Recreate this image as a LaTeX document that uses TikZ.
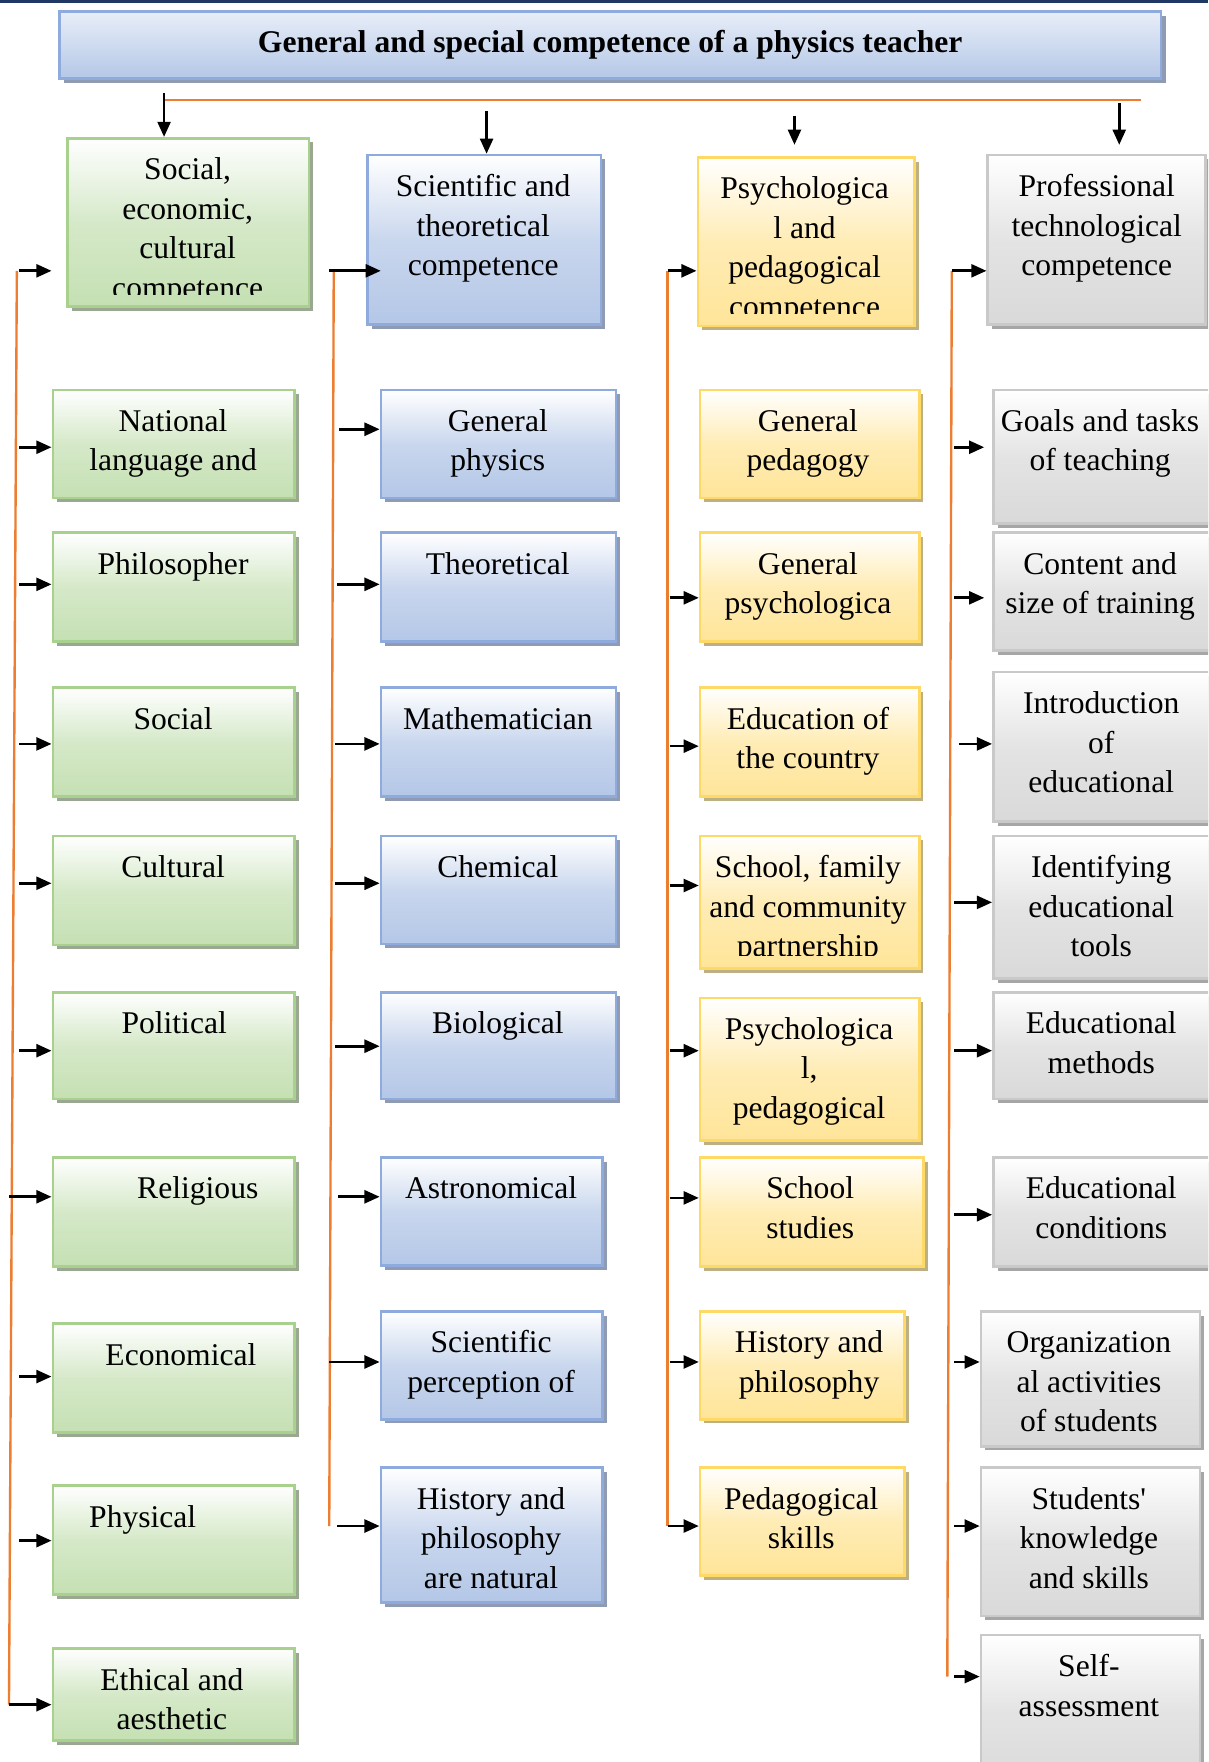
\documentclass[tikz,border=0pt]{standalone}
\usepackage{fontspec}
\setmainfont{Liberation Serif}
\usetikzlibrary{fit,arrows.meta}

\definecolor{navyband}{HTML}{203864}
\definecolor{spinecol}{HTML}{ED7D31}
\definecolor{grnfill}{HTML}{C5E0B3}
\definecolor{grnline}{HTML}{A9D18E}
\definecolor{grnshade}{HTML}{9AA892}
\definecolor{blufill}{HTML}{B4C7E7}
\definecolor{bluline}{HTML}{8FAADC}
\definecolor{blushade}{HTML}{8E9BB2}
\definecolor{ylwfill}{HTML}{FFE599}
\definecolor{ylwline}{HTML}{FFD966}
\definecolor{ylwshade}{HTML}{BDB083}
\definecolor{gryfill}{HTML}{D9D9D9}
\definecolor{gryline}{HTML}{C9C9C9}
\definecolor{gryshade}{HTML}{A6A6A6}
\definecolor{ttltop}{HTML}{E8EEF8}

\tikzset{
  card/.style n args={3}{draw=#2, line width=1.3pt, inner sep=0pt,
    top color=white, bottom color=#1, middle color=#1!72!white,
    preaction={fill=#3, transform canvas={shift={(0.075cm,-0.075cm)}}}},
  greencard/.style={card={grnfill}{grnline}{grnshade}},
  bluecard/.style={card={blufill}{bluline}{blushade}},
  yellowcard/.style={card={ylwfill}{ylwline}{ylwshade}},
  graycard/.style={card={gryfill}{gryline}{gryshade}},
  titlecard/.style={draw=bluline, line width=1.3pt, inner sep=0pt,
    top color=ttltop, bottom color=blufill,
    preaction={fill=blushade, transform canvas={shift={(0.085cm,-0.085cm)}}}},
  lbl/.style={align=center, inner sep=0pt, font=\fontsize{16}{20}\selectfont},
  arr/.style={line width=1.35pt, -{Triangle[length=2.7mm,width=2.3mm]}},
  spine/.style={draw=spinecol, line width=1.2pt}
}

% box: name, style, x1, y1, x2, y2, text x, text
\newcommand\card[8]{%
  \node[#2, fit={(#3,#4) (#5,#6)}] (#1) {};
  \node[lbl, anchor=north] (#1-t) at (#7,#4+12) {\strut #8};}
% same, with the text cut off at height #9
\newcommand\clipcard[9]{%
  \node[#2, fit={(#3,#4) (#5,#6)}] (#1) {};
  \begin{scope}
    \clip (#3,#4) rectangle (#5,#9);
    \node[lbl, anchor=north] (#1-t) at (#7,#4+12) {\strut #8};
  \end{scope}}
% horizontal feed arrow from the spine into a box
\newcommand\feed[5][]{%
  \coordinate (#2) at (#3,#4);
  \draw[arr,#1] (#2) -- (#2 -| #5.west);}

\begin{document}
\begin{tikzpicture}[x=0.02cm, y=-0.02cm]
\useasboundingbox (0,0) rectangle (1075,1568);
\clip (0,0) rectangle (1075,1568);

% top band
\fill[navyband] (0,0) rectangle (1075,3);

% title
\node[titlecard, fit={(53,10) (1033,70)}] (title) {};
\node[inner sep=0pt, font=\fontsize{16}{20}\selectfont\bfseries] (title-t) at (543,40)
  {General and special competence of a physics teacher};

% ---- column 1
\clipcard{h1}{greencard}{60}{123}{275}{273}{167}{Social,\\economic,\\cultural\\competence}{262}
\card{n1}{greencard}{47}{347}{262}{443}{154}{National\\language and}
\card{n2}{greencard}{47}{474}{262}{571}{154}{Philosopher}
\card{n3}{greencard}{47}{612}{262}{709}{154}{Social}
\card{n4}{greencard}{47}{744}{262}{841}{154}{Cultural}
\card{n5}{greencard}{47}{883}{262}{978}{155}{Political}
\card{n6}{greencard}{47}{1030}{262}{1127}{176}{Religious}
\card{n7}{greencard}{47}{1178}{262}{1275}{161}{Economical}
\card{n8}{greencard}{47}{1322}{262}{1419}{127}{Physical}
\card{n9}{greencard}{47}{1467}{262}{1549}{153}{Ethical and\\aesthetic}

% ---- column 2
\card{h2}{bluecard}{327}{138}{535}{289}{430}{Scientific and\\theoretical\\competence}
\card{s1}{bluecard}{339}{347}{548}{443}{443}{General\\physics}
\card{s2}{bluecard}{339}{474}{548}{571}{443}{Theoretical}
\card{s3}{bluecard}{339}{612}{548}{709}{443}{Mathematician}
\card{s4}{bluecard}{339}{744}{548}{840}{443}{Chemical}
\card{s5}{bluecard}{339}{883}{548}{978}{443}{Biological}
\card{s6}{bluecard}{339}{1030}{536}{1126}{437}{Astronomical}
\card{s7}{bluecard}{339}{1167}{536}{1263}{437}{Scientific\\perception of}
\card{s8}{bluecard}{339}{1306}{536}{1426}{437}{History and\\philosophy\\are natural}

% ---- column 3
\clipcard{h3}{yellowcard}{621}{140}{814}{290}{716}{Psychologica\\l and\\pedagogical\\competence}{279}
\card{p1}{yellowcard}{623}{347}{818}{443}{719}{General\\pedagogy}
\card{p2}{yellowcard}{623}{474}{818}{571}{719}{General\\psychologica}
\card{p3}{yellowcard}{623}{612}{818}{709}{719}{Education of\\the country}
\clipcard{p4}{yellowcard}{623}{744}{818}{862}{719}{School, family\\and community\\partnership}{850}
\card{p5}{yellowcard}{623}{888}{818}{1015}{720}{Psychologica\\l,\\pedagogical}
\card{p6}{yellowcard}{623}{1030}{822}{1127}{721}{School\\studies}
\card{p7}{yellowcard}{623}{1167}{805}{1263}{720}{History and\\philosophy}
\card{p8}{yellowcard}{623}{1306}{805}{1402}{713}{Pedagogical\\skills}

% ---- column 4
\card{h4}{graycard}{879}{138}{1073}{289}{976}{Professional\\technological\\competence}
\card{g1}{graycard}{884}{347}{1085}{466}{979}{Goals and tasks\\of teaching}
\card{g2}{graycard}{884}{474}{1085}{579}{979}{Content and\\size of training}
\card{g3}{graycard}{884}{598}{1085}{731}{980}{Introduction\\of\\educational}
\card{g4}{graycard}{884}{744}{1085}{871}{980}{Identifying\\educational\\tools}
\card{g5}{graycard}{884}{883}{1085}{978}{980}{Educational\\methods}
\card{g6}{graycard}{884}{1030}{1085}{1127}{980}{Educational\\conditions}
\card{g7}{graycard}{873}{1167}{1068}{1287}{969}{Organization\\al activities\\of students}
\card{g8}{graycard}{873}{1306}{1068}{1438}{969}{Students\textquotesingle\\knowledge\\and skills}
\card{g9}{graycard}{873}{1455}{1068}{1590}{969}{Self-\\assessment}

% ---- distribution bar and spines
\coordinate (barL) at (147,89);
\coordinate (barR) at (1015,89);
\draw[spine] (barL) -- (barR);
\coordinate (c1top) at (15,241);  \coordinate (c1bot) at (8,1517);
\coordinate (c2top) at (297,241); \coordinate (c2bot) at (293,1358);
\coordinate (c3top) at (594,241); \coordinate (c3bot) at (594,1358);
\coordinate (c4top) at (847,241); \coordinate (c4bot) at (843,1492);
\draw[spine] (c1top) -- (c1bot);
\draw[spine] (c2top) -- (c2bot);
\draw[spine] (c3top) -- (c3bot);
\draw[spine] (c4top) -- (c4bot);

% ---- downward arrows to the four headers
\coordinate (d1) at (146,83);
\coordinate (d2) at (433,99);
\coordinate (d3) at (707,103);
\coordinate (d4) at (996,92);
\draw[arr] (d1) -- (d1 |- h1.north);
\draw[arr] (d2) -- (d2 |- h2.north);
\draw[arr, shorten >=0.2cm] (d3) -- (d3 |- h3.north);
\draw[arr, shorten >=0.16cm] (d4) -- (d4 |- h4.north);

% ---- feed arrows, column 1
\feed[shorten >=0.26cm]{f10}{17}{241}{h1}
\feed{f11}{17}{398}{n1}
\feed{f12}{17}{520}{n2}
\feed{f13}{17}{662}{n3}
\feed{f14}{17}{786}{n4}
\feed{f15}{17}{935}{n5}
\feed{f16}{8}{1065}{n6}
\feed{f17}{17}{1225}{n7}
\feed{f18}{17}{1371}{n8}
\feed{f19}{8}{1517}{n9}

% ---- feed arrows, column 2
\feed[shorten >=-0.26cm]{f20}{293}{241}{h2}
\feed{f21}{302}{382}{s1}
\feed{f22}{300}{520}{s2}
\feed{f23}{298}{662}{s3}
\feed{f24}{298}{786}{s4}
\feed{f25}{298}{931}{s5}
\feed{f26}{301}{1065}{s6}
\feed{f27}{293}{1212}{s7}
\feed{f28}{300}{1358}{s8}

% ---- feed arrows, column 3
\feed{f30}{594}{241}{h3}
\feed{f32}{596}{532}{p2}
\feed{f33}{596}{664}{p3}
\feed{f34}{596}{788}{p4}
\feed{f35}{596}{935}{p5}
\feed{f36}{596}{1066}{p6}
\feed{f37}{596}{1212}{p7}
\feed{f38}{594}{1358}{p8}

% ---- feed arrows, column 4
\feed{f40}{847}{241}{h4}
\feed[shorten >=0.14cm]{f41}{849}{398}{g1}
\feed[shorten >=0.14cm]{f42}{849}{532}{g2}
\feed{f43}{853}{662}{g3}
\feed{f44}{849}{803}{g4}
\feed{f45}{849}{935}{g5}
\feed{f46}{849}{1081}{g6}
\feed{f47}{849}{1212}{g7}
\feed{f48}{849}{1358}{g8}
\feed{f49}{849}{1492}{g9}
\end{tikzpicture}
\end{document}
